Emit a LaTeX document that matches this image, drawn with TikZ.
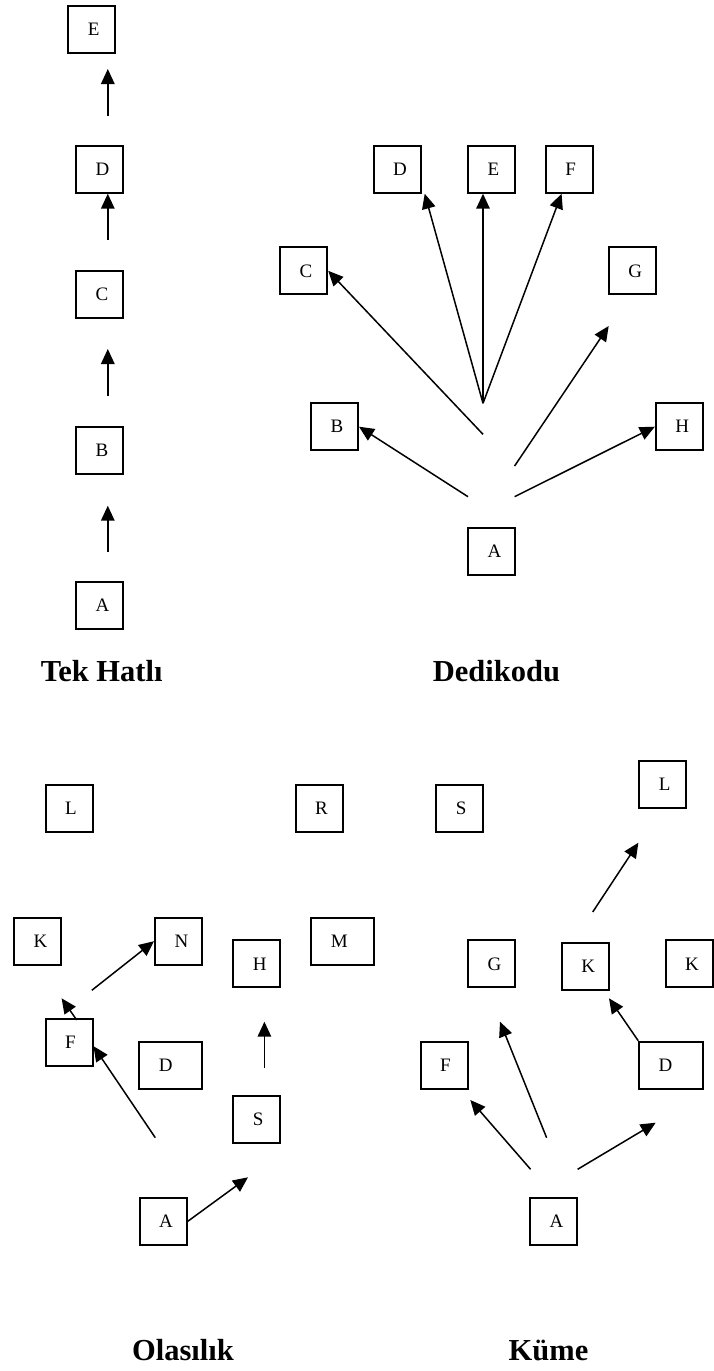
\documentclass[tikz,border=0pt]{standalone}
\usepackage{fontspec}
\setmainfont{Liberation Serif}
\usetikzlibrary{arrows.meta,calc}

\begin{document}
\begin{tikzpicture}[x=1pt,y=-1pt,
  box/.style={draw, line width=2pt, minimum height=47pt, inner sep=0pt,
    text width=#1, align=left, font=\fontsize{19}{19}\selectfont,
    execute at begin node={\hspace*{19.5pt}}},
  box/.default=47pt,
  link/.style={line width=1.5pt, -{Triangle[length=15pt,width=13.5pt]}},
  title/.style={anchor=base, inner sep=0pt, font=\fontsize{30.5}{30.5}\selectfont\bfseries}]

\useasboundingbox (0,0) rectangle (713,1371);

% ---------- Tek Hatlı ----------
\node[box] (tE) at (91.8,29.2)  {E};
\node[box] (tD) at (99.5,169.2) {D};
\node[box] (tC) at (99.5,294.3) {C};
\node[box] (tB) at (99.5,450.2) {B};
\node[box] (tA) at (99.5,605.5) {A};

\coordinate (t1s) at (107.8,551.7); \coordinate (t1e) at (107.8,505.7);
\coordinate (t2s) at (107.8,396);   \coordinate (t2e) at (107.8,349);
\coordinate (t3s) at (107.8,240);
\coordinate (t4s) at (107.8,115.7); \coordinate (t4e) at (107.8,69);
\draw[link] (t1s) -- (t1e);
\draw[link] (t2s) -- (t2e);
\draw[link] (t3s) -- (t3s |- tD.south);
\draw[link] (t4s) -- (t4e);

\node[title] (tT) at (101.7,681.5) {Tek Hatlı};

% ---------- Dedikodu ----------
\node[box] (dD) at (397.2,169.2) {D};
\node[box] (dE) at (491.5,169.2) {E};
\node[box] (dF) at (569.3,169.2) {F};
\node[box] (dC) at (303.7,270.8) {C};
\node[box] (dG) at (632.3,270.8) {G};
\node[box] (dB) at (334.5,426.7) {B};
\node[box] (dH) at (679.3,426.7) {H};
\node[box] (dA) at (491.5,551.3) {A};

\coordinate (hub) at (483,403.3);
\coordinate (dCs) at (483,434.3);
\coordinate (dGs) at (514.6,466);  \coordinate (dGe) at (608.7,326);
\coordinate (dBs) at (468,496.7);
\coordinate (dHs) at (514.6,496.7);

\draw[link] (hub) -- ([xshift=3pt]dD.south east);
\draw[link] (hub) -- ([xshift=-8.5pt]dE.south);
\draw[link] (hub) -- ([xshift=-7.7pt]dF.south);
\draw[link] (dCs) -- (dC.east);
\draw[link] (dGs) -- (dGe);
\draw[link] (dBs) -- (dB.east);
\draw[link] (dHs) -- (dH.west);

\node[title] (dT) at (496.5,681.5) {Dedikodu};

% ---------- Olasılık ----------
\node[box] (oL) at (69,808.5)    {L};
\node[box] (oR) at (319.2,808.5) {R};
\node[box] (oK) at (37.5,941.2)  {K};
\node[box] (oN) at (178.5,941.2) {N};
\node[box] (oH) at (256.9,963.8) {H};
\node[box=63pt] (oM) at (342.9,941.2) {M};
\node[box] (oF) at (69,1042.2)   {F};
\node[box=63pt] (oD) at (170.8,1065.2) {D};
\node[box] (oS) at (256.9,1119.7) {S};
\node[box] (oA) at (163,1221.5)  {A};

\coordinate (oFs) at ($(oF.north)+(7.7,2.3)$); \coordinate (oFe) at (61.6,998.3);
\coordinate (oNs) at (91.8,990.3);
\coordinate (oF2s) at (155.3,1137.7);
\coordinate (oHs) at (264.4,1068.3); \coordinate (oHe) at (264.4,1021.7);
\coordinate (oAe) at (248,1177.3);

\draw[link] (oFs) -- (oFe);
\draw[link] (oNs) -- (oN.west);
\draw[link] (oF2s) -- ([yshift=-4pt]oF.east);
\draw[link] (oHs) -- (oHe);
\draw[link] (oA.east) -- (oAe);

\node[title] (oT) at (183,1360) {Olasılık};

% ---------- Küme ----------
\node[box] (kS) at (459.8,808.5) {S};
\node[box] (kL) at (662.9,784.7) {L};
\node[box] (kG) at (491.5,963.8) {G};
\node[box] (kK) at (585.3,966.5) {K};
\node[box] (kK2) at (689,963.8)  {K};
\node[box] (kF) at (444.2,1065.2) {F};
\node[box=64pt] (kD) at (671.2,1065.2) {D};
\node[box] (kA) at (553.6,1221.5) {A};

\coordinate (kLs) at (592.7,912);    \coordinate (kLe) at (638.4,842.7);
\coordinate (kGs) at (546.6,1137.7); \coordinate (kGe) at (500,1021.7);
\coordinate (kKe) at (609,998.3);
\coordinate (kFs) at (530.6,1169.3); \coordinate (kFe) at (470.3,1100);
\coordinate (kRs) at (577.6,1169.3); \coordinate (kRe) at (655.7,1122.7);

\draw[link] (kLs) -- (kLe);
\draw[link] (kGs) -- (kGe);
\draw[link] (kD.north west) -- (kKe);
\draw[link] (kFs) -- (kFe);
\draw[link] (kRs) -- (kRe);

\node[title] (kT) at (548.5,1360) {Küme};
\end{tikzpicture}
\end{document}
